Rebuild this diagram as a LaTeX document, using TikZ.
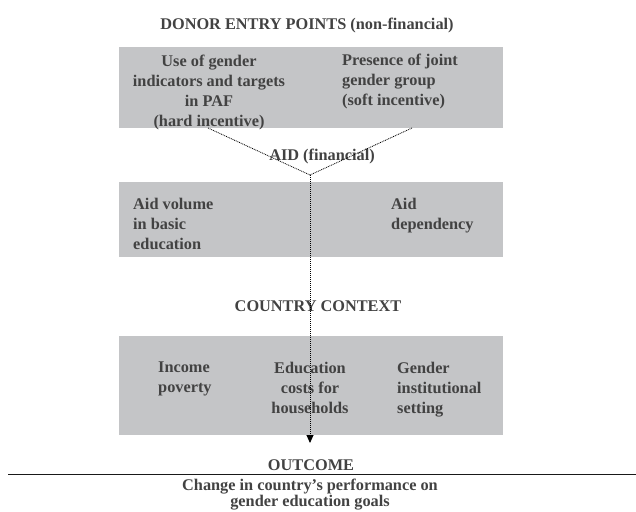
\documentclass[tikz,border=0pt]{standalone}
\usepackage{fontspec}
\setmainfont{Liberation Serif}
\usepackage{xcolor}
\usepackage{tikz}
\usetikzlibrary{positioning,arrows.meta,calc}
\definecolor{bGray}{RGB}{196,197,199}
\definecolor{tGray}{RGB}{66,66,66}
\tikzset{
  panel/.style={rectangle, fill=bGray, draw=none},
  head/.style={font=\fontsize{16.3}{20}\selectfont\bfseries, text=tGray,
               inner sep=0pt, anchor=base},
  item/.style={font=\fontsize{16.3}{20}\selectfont\bfseries, text=tGray,
               inner sep=0pt, anchor=north, align=left,
               execute at begin node=\strut},
  itemc/.style={item, align=center},
  link/.style={draw=black, line width=0.8pt, dash pattern=on 0.9pt off 0.9pt},
  flowd/.style={draw=black, line width=0.9pt, dash pattern=on 1pt off 1pt,
                -{Triangle[length=8pt,width=7pt]}},
}
\begin{document}
\begin{tikzpicture}[x=1pt, y=-1pt]
  \useasboundingbox (0,0) rectangle (636,511);

  % --- donor entry points ---
  \node[head] (donorT) at (307,30) {DONOR ENTRY POINTS (non-financial)};
  \fill[panel] (119,47) rectangle (503,128);
  \node[itemc] (paf) at (209,54.5) {Use of gender\\indicators and targets\\in PAF\\(hard incentive)};
  \node[item, anchor=north west] (jgg) at (342,53.5) {Presence of joint\\gender group\\(soft incentive)};

  % --- aid ---
  \node[head] (aidT) at (322,160) {AID (financial)};
  \fill[panel] (119,182) rectangle (503,257);
  \node[item, anchor=north west] (vol) at (133,197.5) {Aid volume\\in basic\\education};
  \node[item, anchor=north west] (dep) at (391,197.5) {Aid\\dependency};

  % --- country context ---
  \node[head] (ctxT) at (318,311) {COUNTRY CONTEXT};
  \fill[panel] (119,336) rectangle (503,435);
  \node[item, anchor=north west] (pov)  at (158,361.5) {Income\\poverty};
  \node[itemc] (cost) at (310,361.5) {Education\\costs for\\households};
  \node[item, anchor=north west] (inst) at (397,361.5) {Gender\\institutional\\setting};

  % --- outcome ---
  \node[head] (outT) at (311,470) {OUTCOME};
  \draw[line width=0.9pt, black!90] (8,474) -- (636,474);
  \node[itemc, font=\fontsize{16.3}{16}\selectfont\bfseries] (goal) at (310,479)
    {Change in country’s performance on\\gender education goals};

  % dotted links into the aid channel
  \coordinate (jn)  at (310,175);
  \coordinate (pafB) at (208,128);
  \coordinate (jggB) at (412,128);
  \coordinate (tip) at (310,443);
  \draw[link] (pafB) -- (jn);
  \draw[link] (jggB) -- (jn);
  \draw[flowd] (jn) -- (tip);
\end{tikzpicture}
\end{document}
